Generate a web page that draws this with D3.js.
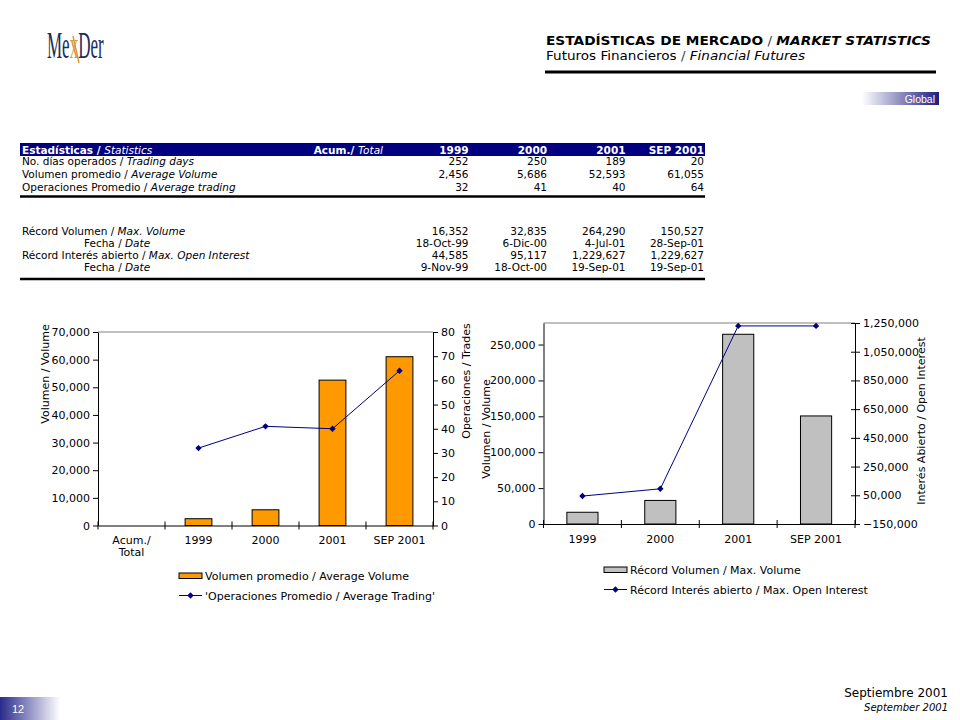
<!DOCTYPE html>
<html>
<head>
<meta charset="utf-8">
<script src="https://cdn.jsdelivr.net/npm/d3@7"></script>
<style>
  body { margin: 0; background: #fff; }
  svg text { font-family: "DejaVu Sans", Verdana, sans-serif; }
</style>
</head>
<body>
<div class="chart"></div>
<script>
// ---- data ----
const tableCols = ["1999", "2000", "2001", "SEP 2001"]
const tradingDays = [252, 250, 189, 20]
const avgVolume = [2456, 5686, 52593, 61055]
const avgTrades = [32, 41, 40, 64]
const maxVolume = [16352, 32835, 264290, 150527]
const maxVolumeDate = ["18-Oct-99", "6-Dic-00", "4-Jul-01", "28-Sep-01"]
const maxOI = [44585, 95117, 1229627, 1229627]
const maxOIDate = ["9-Nov-99", "18-Oct-00", "19-Sep-01", "19-Sep-01"]

const volCats = ["Acum./Total", "1999", "2000", "2001", "SEP 2001"]
const volValues = [null, 2456, 5686, 52593, 61055]
const tradeValues = [null, 32, 41, 40, 64]
const volTicks = [0, 10000, 20000, 30000, 40000, 50000, 60000, 70000]
const tradeTicks = [0, 10, 20, 30, 40, 50, 60, 70, 80]

const recCats = ["1999", "2000", "2001", "SEP 2001"]
const recVolume = [16352, 32835, 264290, 150527]
const recOI = [44585, 95117, 1229627, 1229627]
const recVolTicks = [0, 50000, 100000, 150000, 200000, 250000]
const recOITicks = [-150000, 50000, 250000, 450000, 650000, 850000, 1050000, 1250000]

const navy = "#000080"
const fmt = d3.format(",")

const svg = d3.select(".chart").append("svg")
  .attr("width", 960)
  .attr("height", 720)

const defs = svg.append("defs")
const g1 = defs.append("linearGradient").attr("id", "gGlobal")
g1.append("stop").attr("offset", "0%").attr("stop-color", "#fff")
g1.append("stop").attr("offset", "100%").attr("stop-color", "#1c1c80")
const g2 = defs.append("linearGradient").attr("id", "gPage")
g2.append("stop").attr("offset", "0%").attr("stop-color", "#2a2a8c")
g2.append("stop").attr("offset", "100%").attr("stop-color", "#fff")

// ---- header ----
const logo = svg.append("text")
  .attr("transform", "translate(47,58) scale(0.46,1)")
  .style("font-family", "Liberation Serif, serif")
  .attr("font-size", 37)
  .attr("fill", "#1b2b5e")
logo.append("tspan").text("Me")
logo.append("tspan").attr("fill", "#d9953a").text("x")
logo.append("tspan").text("Der")
svg.append("line").attr("x1", 73).attr("y1", 36).attr("x2", 79).attr("y2", 63)
  .attr("stroke", "#d9953a").attr("stroke-width", 1.4)

const t1 = svg.append("text").attr("x", 546).attr("y", 45)
  .attr("font-size", 12).attr("textLength", 385).attr("lengthAdjust", "spacingAndGlyphs")
t1.append("tspan").attr("font-weight", "bold").text("ESTADÍSTICAS DE MERCADO")
t1.append("tspan").attr("fill", "#444").text(" / ")
t1.append("tspan").attr("font-weight", "bold").attr("font-style", "italic").text("MARKET STATISTICS")

const t2 = svg.append("text").attr("x", 546).attr("y", 60)
  .attr("font-size", 11.5).attr("textLength", 259).attr("lengthAdjust", "spacingAndGlyphs")
t2.append("tspan").text("Futuros Financieros ")
t2.append("tspan").attr("fill", "#444").text("/ ")
t2.append("tspan").attr("font-style", "italic").text("Financial Futures")

svg.append("line").attr("x1", 545).attr("x2", 936).attr("y1", 72).attr("y2", 72)
  .attr("stroke", "#000").attr("stroke-width", 3)

svg.append("rect").attr("x", 862).attr("y", 92).attr("width", 77).attr("height", 13)
  .attr("fill", "url(#gGlobal)")
svg.append("text").attr("x", 935).attr("y", 102.5).attr("text-anchor", "end")
  .attr("font-size", 10.5)
  .style("font-family", "Liberation Sans, sans-serif")
  .attr("fill", "#fff").text("Global")

// ---- table ----
const colX = d3.scaleBand().domain(tableCols).range([390, 704])
const colRight = c => colX(c) + colX.bandwidth()
const acumRight = 383
const tbl = svg.append("g").attr("font-size", 10.5)

tbl.append("rect").attr("x", 20).attr("y", 143).attr("width", 685).attr("height", 13).attr("fill", navy)
const hd = tbl.append("text").attr("x", 22).attr("y", 154).attr("fill", "#fff")
hd.append("tspan").attr("font-weight", "bold").text("Estadísticas / ")
hd.append("tspan").attr("font-style", "italic").text("Statistics")
const ha = tbl.append("text").attr("x", acumRight).attr("y", 154).attr("fill", "#fff").attr("text-anchor", "end")
ha.append("tspan").attr("font-weight", "bold").text("Acum./ ")
ha.append("tspan").attr("font-style", "italic").text("Total")
tbl.selectAll(".hcol").data(tableCols).join("text")
  .attr("class", "hcol")
  .attr("x", d => colRight(d)).attr("y", 154)
  .attr("text-anchor", "end").attr("fill", "#fff").attr("font-weight", "bold")
  .text(d => d)

const rows = [
  { a: "No. días operados / ", b: "Trading days", v: tradingDays.map(fmt), y: 165, x: 22 },
  { a: "Volumen promedio / ", b: "Average Volume", v: avgVolume.map(fmt), y: 178, x: 22 },
  { a: "Operaciones Promedio / ", b: "Average trading", v: avgTrades.map(fmt), y: 191, x: 22 },
  { a: "Récord Volumen / ", b: "Max. Volume", v: maxVolume.map(fmt), y: 235, x: 22 },
  { a: "Fecha / ", b: "Date", v: maxVolumeDate, y: 247, x: 84 },
  { a: "Récord Interés abierto / ", b: "Max. Open Interest", v: maxOI.map(fmt), y: 259, x: 22 },
  { a: "Fecha / ", b: "Date", v: maxOIDate, y: 271, x: 84 }
]
rows.forEach(r => {
  const t = tbl.append("text").attr("x", r.x).attr("y", r.y)
  t.append("tspan").text(r.a)
  t.append("tspan").attr("font-style", "italic").text(r.b)
  tbl.selectAll(null).data(r.v).join("text")
    .attr("x", (d, i) => colRight(tableCols[i])).attr("y", r.y)
    .attr("text-anchor", "end")
    .text(d => d)
})
tbl.append("line").attr("x1", 20).attr("x2", 705).attr("y1", 196.5).attr("y2", 196.5)
  .attr("stroke", "#000").attr("stroke-width", 2.5)
tbl.append("line").attr("x1", 20).attr("x2", 705).attr("y1", 279).attr("y2", 279)
  .attr("stroke", "#000").attr("stroke-width", 2.5)

// ---- helpers ----
function diamond(sel, x, y) {
  sel.append("path")
    .attr("d", `M${x},${y - 3.2}L${x + 3.2},${y}L${x},${y + 3.2}L${x - 3.2},${y}Z`)
    .attr("fill", navy)
}

function drawChart(o) {
  const g = svg.append("g").attr("font-size", 11)
  const x = d3.scaleBand().domain(o.cats).range([o.left, o.right])
  const yL = d3.scaleLinear().domain(o.leftDomain).range([o.bottom, o.top])
  const yR = d3.scaleLinear().domain(o.rightDomain).range([o.bottom, o.top])
  const bw = x.bandwidth() * 0.4

  // top border
  g.append("line").attr("x1", o.left).attr("x2", o.right).attr("y1", o.top).attr("y2", o.top)
    .attr("stroke", "#808080")

  // bars
  g.selectAll(".bar").data(o.bars.map((v, i) => ({ c: o.cats[i], v })).filter(d => d.v != null))
    .join("rect")
    .attr("x", d => x(d.c) + (x.bandwidth() - bw) / 2)
    .attr("y", d => yL(d.v))
    .attr("width", bw)
    .attr("height", d => yL(0) - yL(d.v))
    .attr("fill", o.barColor)
    .attr("stroke", "#000").attr("stroke-width", 1)

  // line
  const pts = o.line.map((v, i) => ({ c: o.cats[i], v })).filter(d => d.v != null)
  const ln = d3.line().x(d => x(d.c) + x.bandwidth() / 2).y(d => yR(d.v))
  g.append("path").datum(pts).attr("d", ln).attr("fill", "none")
    .attr("stroke", navy).attr("stroke-width", 1)
  pts.forEach(d => diamond(g, x(d.c) + x.bandwidth() / 2, yR(d.v)))

  // left axis
  const la = g.append("g").attr("transform", `translate(${o.left},0)`)
    .call(d3.axisLeft(yL).tickValues(o.leftTicks).tickFormat(fmt).tickSize(5).tickSizeOuter(0))
  // right axis
  const ra = g.append("g").attr("transform", `translate(${o.right},0)`)
    .call(d3.axisRight(yR).tickValues(o.rightTicks).tickFormat(fmt).tickSize(5).tickSizeOuter(0))
  if (o.rightCross) ra.selectAll(".tick line").attr("x1", -4)
  // bottom axis
  const ba = g.append("g").attr("transform", `translate(0,${o.bottom})`)
    .call(d3.axisBottom(x).tickSize(0).tickSizeOuter(0).tickPadding(10).tickFormat(d => ""))
  const bounds = o.cats.map(c => x(c)).concat([o.right])
  ba.selectAll(".bt").data(bounds).join("line")
    .attr("x1", d => d).attr("x2", d => d).attr("y1", -4).attr("y2", 4)
    .attr("stroke", "#000")
  ba.selectAll(".tick").each(function (d) {
    const parts = o.labelLines(d)
    const t = d3.select(this).select("text").attr("y", 11).attr("dy", "0.71em")
    parts.forEach((p, i) => t.append("tspan").attr("x", 0).attr("dy", i === 0 ? "0.71em" : "1.1em").text(p))
  })
  ;[la, ra, ba].forEach(a => {
    a.selectAll("text").attr("font-size", 11).attr("fill", "#000")
      .style("font-family", "DejaVu Sans, Verdana, sans-serif")
    a.selectAll("line, path").attr("stroke", "#000")
  })

  // axis titles
  g.append("text").attr("transform", `translate(${o.leftTitleX},${o.leftTitleY}) rotate(-90)`)
    .attr("text-anchor", "middle").text(o.leftTitle)
  g.append("text").attr("transform", `translate(${o.rightTitleX},${o.rightTitleY}) rotate(-90)`)
    .attr("text-anchor", "middle").text(o.rightTitle)

  // legend
  const lg = g.append("g").attr("transform", `translate(${o.legX},${o.legY})`)
  lg.append("rect").attr("x", 0).attr("y", -3).attr("width", 23).attr("height", 5.5)
    .attr("fill", o.barColor).attr("stroke", "#000")
  lg.append("text").attr("x", 26).attr("y", 4).text(o.legBar)
  lg.append("line").attr("x1", 0).attr("x2", 23).attr("y1", 19.5).attr("y2", 19.5).attr("stroke", navy)
  diamond(lg, 11.5, 19.5)
  lg.append("text").attr("x", 26).attr("y", 23.5).text(o.legLine)
}

drawChart({
  cats: volCats, bars: volValues, line: tradeValues,
  left: 98, right: 433, top: 332, bottom: 525.5,
  leftDomain: [0, 70000], rightDomain: [0, 80],
  leftTicks: volTicks, rightTicks: tradeTicks,
  barColor: "#ff9900", rightCross: false,
  labelLines: d => d === "Acum./Total" ? ["Acum./", "Total"] : [d],
  leftTitle: "Volumen / Volume", leftTitleX: 49, leftTitleY: 374,
  rightTitle: "Operaciones / Trades", rightTitleX: 470, rightTitleY: 381,
  legX: 179, legY: 576,
  legBar: "Volumen promedio / Average Volume",
  legLine: "'Operaciones Promedio / Average Trading'"
})

drawChart({
  cats: recCats, bars: recVolume, line: recOI,
  left: 543.5, right: 855, top: 323, bottom: 524,
  leftDomain: [0, 280000], rightDomain: [-150000, 1250000],
  leftTicks: recVolTicks, rightTicks: recOITicks,
  barColor: "#c0c0c0", rightCross: true,
  labelLines: d => [d],
  leftTitle: "Volumen / Volume", leftTitleX: 490, leftTitleY: 429,
  rightTitle: "Interés Abierto / Open Interest", rightTitleX: 925, rightTitleY: 421,
  legX: 604, legY: 570,
  legBar: "Récord Volumen / Max. Volume",
  legLine: "Récord Interés abierto / Max. Open Interest"
})

// ---- footer ----
svg.append("rect").attr("x", 0).attr("y", 697).attr("width", 60).attr("height", 23)
  .attr("fill", "url(#gPage)")
svg.append("text").attr("x", 12).attr("y", 713).attr("font-size", 11).attr("fill", "#fff")
  .style("font-family", "Liberation Sans Narrow, Liberation Sans, sans-serif")
  .text("12")
svg.append("text").attr("x", 948).attr("y", 697).attr("text-anchor", "end")
  .attr("font-size", 12).text("Septiembre 2001")
svg.append("text").attr("x", 948).attr("y", 711).attr("text-anchor", "end")
  .attr("font-size", 10).attr("font-style", "italic").text("September 2001")
</script>
</body>
</html>
